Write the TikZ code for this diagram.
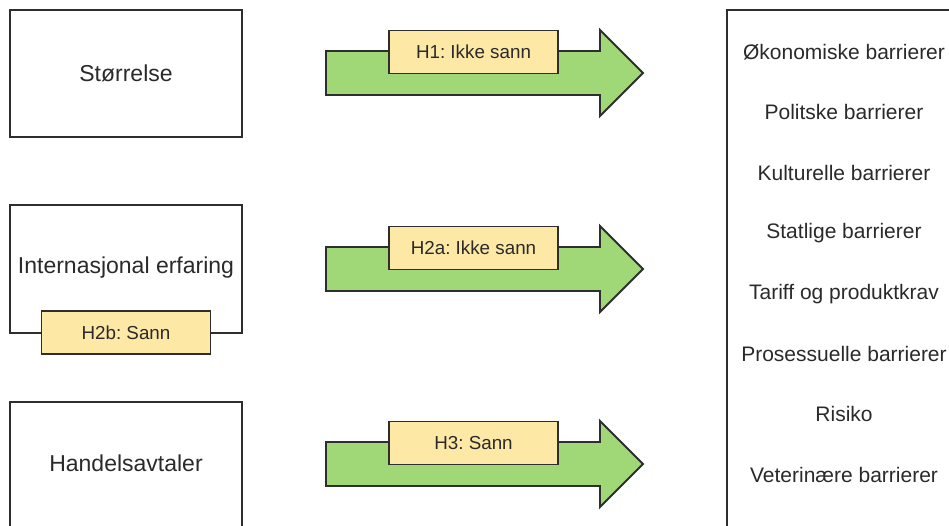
\documentclass[tikz,border=0pt]{standalone}
\usepackage{fontspec}
\setmainfont{Liberation Sans}
\frenchspacing
\definecolor{edge}{HTML}{2E2E2E}
\definecolor{ink}{HTML}{2A2A2A}
\definecolor{arrowgreen}{HTML}{A0D878}
\definecolor{tagyellow}{HTML}{FDE8A6}
\tikzset{
  factor/.style={draw=edge, line width=1.9pt, fill=white, text=ink,
    minimum width=232pt, minimum height=127pt, inner sep=0pt,
    font=\fontsize{23}{27}\selectfont},
  tag/.style={draw=edge, line width=1.9pt, fill=tagyellow, text=ink,
    minimum width=169pt, minimum height=43pt, inner sep=0pt,
    font=\fontsize{18.8}{22}\selectfont},
  bigarrow/.style={draw=edge, line width=1.9pt, fill=arrowgreen, line join=miter},
  barrier/.style={text=ink, inner sep=0pt, font=\fontsize{21}{25}\selectfont},
  frame/.style={draw=edge, line width=1.9pt}
}
\begin{document}
\begin{tikzpicture}[x=1pt,y=-1pt]
\useasboundingbox (0,0) rectangle (949,525);
\clip (0,0) rectangle (949,525);

% factor boxes on the left
\node[factor] (size) at (126,73.5) {Størrelse};
\node[factor, minimum height=128pt] (intl) at (126,269) {};
\node[text=ink, inner sep=0pt, font=\fontsize{23}{27}\selectfont] (intltext) at (126,268) {Internasjonal erfaring};
\node[factor, minimum height=200pt, anchor=north] (trade) at (126,401) {};
\node[text=ink, inner sep=0pt, font=\fontsize{23}{27}\selectfont] (tradetext) at (126,463) {Handelsavtaler};
\node[tag] (h2b) at (126,332.5) {H2b: Sann};

% block arrows with hypothesis tags
\foreach \cy/\lab/\nm in {73/{H1: Ikke sann}/h1, 269/{H2a: Ikke sann}/h2a, 464/{H3: Sann}/h3}{
  \draw[bigarrow] (326,\cy-22) -- (600,\cy-22) -- (600,\cy-43) -- (643,\cy)
    -- (600,\cy+43) -- (600,\cy+22) -- (326,\cy+22) -- cycle;
  \node[tag] (\nm) at (473.5,\cy-21) {\lab};
}

% barrier list
\draw[frame] (727,540) -- (727,10) -- (960,10);
\foreach \t [count=\i] in {Økonomiske barrierer, Politske barrierer, Kulturelle barrierer,
  Statlige barrierer, Tariff og produktkrav, Prosessuelle barrierer, Risiko, Veterinære barrierer}{
  \node[barrier] (b\i) at (844,52+60.4*\i-60.4) {\t};
}
\end{tikzpicture}
\end{document}
